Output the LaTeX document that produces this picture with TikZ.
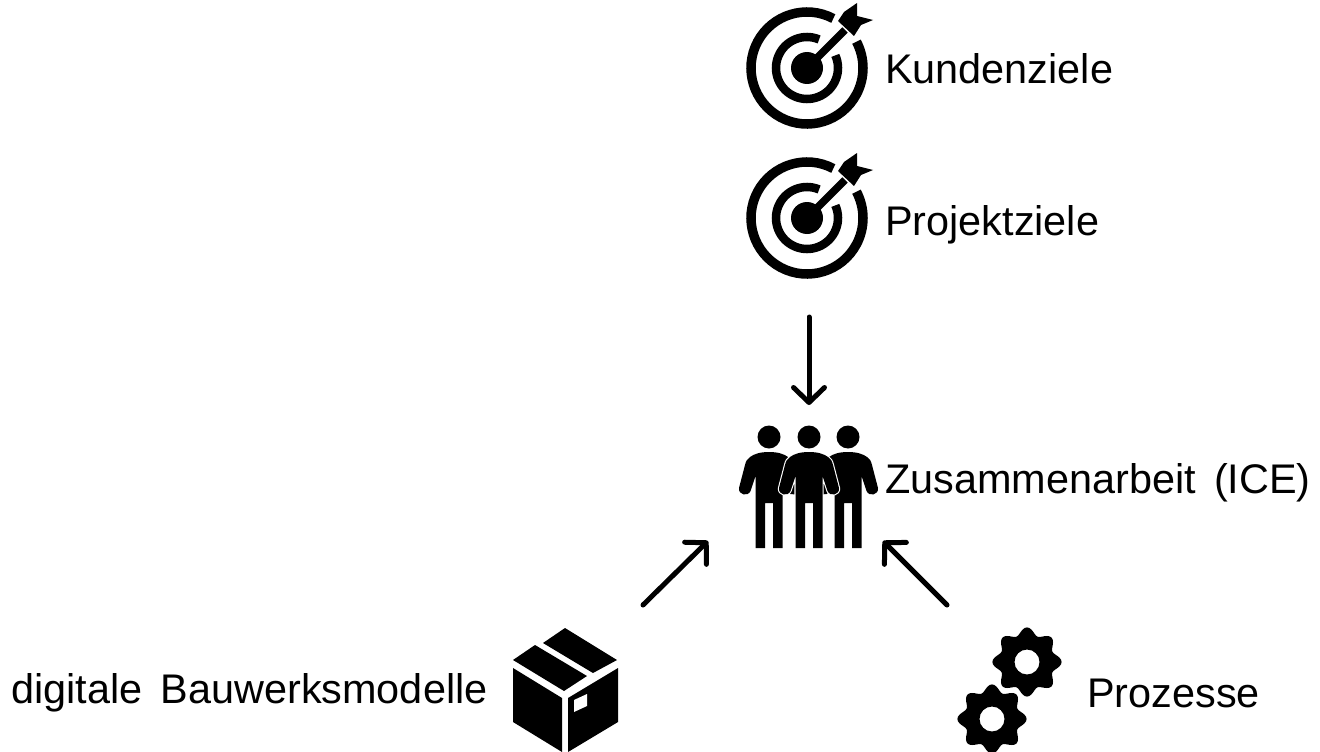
\documentclass[tikz,border=0pt]{standalone}
\usepackage{fontspec}
\setmainfont{Liberation Sans}
\usetikzlibrary{arrows.meta}
\tikzset{
  x=1pt,y=-1pt,
  label text/.style={anchor=base west,inner sep=0pt,font=\fontsize{41.4}{44}\selectfont,text=black},
  flow/.style={draw=black,line width=5pt,line cap=round,-{Straight Barb[length=15pt,width=31pt,line width=5pt,round]}},
  ring/.style={draw=black,line width=9.5pt},
  personshape/.style={insert path={
    (0,-51) .. controls (9,-51) and (15,-49) .. (19,-46)
      .. controls (22,-44) and (23,-42) .. (24,-38) -- (30,-15)
      .. controls (31,-8) and (21,-6) .. (18.5,-12) -- (13.5,-27) -- (13.5,45) -- (4,45) -- (4,0) -- (-4,0) -- (-4,45) -- (-13.5,45) -- (-13.5,-27) -- (-18.5,-12)
      .. controls (-21,-6) and (-31,-8) .. (-30,-15) -- (-24,-38)
      .. controls (-23,-42) and (-22,-44) .. (-19,-46) .. controls (-15,-49) and (-9,-51) .. (0,-51) -- cycle}},
  target/.pic={
    \draw[ring] (-62:56) arc[start angle=-62,end angle=-388,radius=56];
    \draw[ring,line width=8.5pt] (-67:31) arc[start angle=-67,end angle=-384,radius=31];
    \fill[black] (0,0) circle[radius=16];
    \draw[black,line width=7.5pt] (0,0) -- (38,-38);
    \fill[black] (50,-65) -- (50,-52) -- (66,-48) -- (54,-43) -- (47,-32) -- (31,-47) -- (37,-56) -- cycle;
  },
  teammate/.pic={
    \fill[black] (0,-66) circle[radius=11.5];
    \fill[black,personshape];
  },
  frontmate/.pic={
    \fill[black] (0,-66) circle[radius=11.5];
    \draw[white,line width=2.2pt,line join=round,personshape];
    \fill[black,personshape];
  },
  gear/.pic={
    \fill[black,even odd rule] plot[smooth cycle,samples=96,domain=0:356.25,variable=\t] ({(31+3.6*cos(8*\t))*cos(\t)},{(31+3.6*cos(8*\t))*sin(\t)})
      (0,0) circle[radius=12.5];
  },
}
\begin{document}
\begin{tikzpicture}
\useasboundingbox (0,0) rectangle (1320,752);
\fill[white] (0,0) rectangle (1320,752);
\begin{scope}
\clip (0,0) rectangle (1320,752);
% targets
\pic at (807,68) {target};
\pic at (807,218) {target};
% people
\pic at (769,503) {teammate};
\pic at (848,503) {teammate};
\pic at (809,503) {frontmate};
% box
\fill[black] (535,645) -- (513,660) -- (564,691) -- (587,676) -- cycle;
\fill[black] (565,628) -- (543,643) -- (593,673) -- (617,660) -- cycle;
\fill[black] (513,668) -- (513,722) -- (562,752) -- (562,698) -- cycle;
\fill[black] (568,698) -- (618,668) -- (618,722) -- (568,752) -- cycle;
\fill[white] (574,700) -- (587,694) -- (587,706) -- (574,712) -- cycle;
% gears
\pic at (1027,662) {gear};
\pic at (992,719) {gear};
\end{scope}
% labels
\node[label text] (kunden) at (885,84) {Kundenziele};
\node[label text] (projekt) at (885,235) {Projektziele};
\node[label text] (zusammen) at (885,493) {Zusammenarbeit\, (ICE)};
\node[label text] (modelle) at (11,703) {digitale\, Bauwerksmodelle};
\node[label text] (prozesse) at (1087,707) {Prozesse};
% connectors
\coordinate (goalsout) at (809,317);
\coordinate (teamtop) at (809,405);
\coordinate (modelout) at (643,605);
\coordinate (teamleft) at (708,541);
\coordinate (procout) at (947,605);
\coordinate (teamright) at (883,541);
\draw[flow] (goalsout) -- (teamtop);
\draw[flow] (modelout) -- (teamleft);
\draw[flow] (procout) -- (teamright);
\end{tikzpicture}
\end{document}
